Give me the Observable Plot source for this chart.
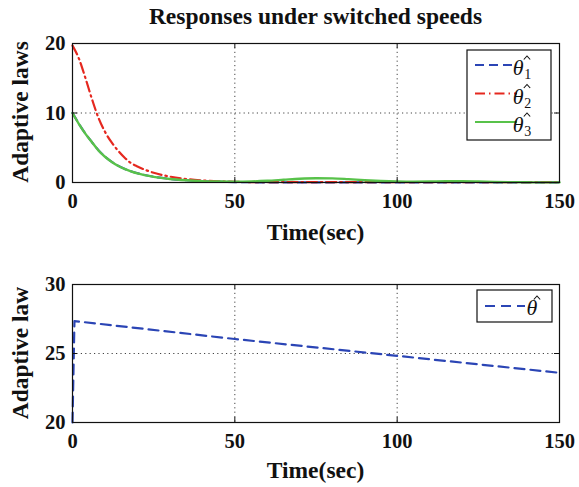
<!DOCTYPE html>
<html><head><meta charset="utf-8">
<script src="https://cdn.jsdelivr.net/npm/d3@7"></script>
<script src="https://cdn.jsdelivr.net/npm/@observablehq/plot@0.6"></script>
<style>
body{margin:0;background:#fff;}
#wrap{position:relative;width:579px;height:487px;font-family:"Liberation Serif","Times New Roman",serif;overflow:hidden;}
#title{position:absolute;left:72px;width:487px;top:2px;text-align:center;font-weight:bold;font-size:23.5px;line-height:28px;color:#111;}
.plot{position:absolute;left:0;}
</style></head><body>
<div id="wrap">
<div id="p1" class="plot" style="top:0px"></div>
<div id="p2" class="plot" style="top:250px"></div>
<div id="title">Responses under switched speeds</div>
</div>
<script>
// ---- data ----
const titleText = "Responses under switched speeds";
const xTicks = [0, 50, 100, 150];
const yTicksTop = [0, 10, 20];
const yTicksBottom = [20, 25, 30];
const timeTop = [0,2,4,6,8,10,12,14,16,18,20,25,30,35,40,45,50,55,60,65,70,75,80,85,90,95,100,105,110,115,120,125,130,135,140,145,150];
const theta1 = [10,8.4,7.0,5.8,4.6,3.7,3.0,2.4,1.95,1.6,1.3,0.8,0.5,0.32,0.2,0.12,0.05,0.03,0.03,0.03,0.03,0.03,0.03,0.03,0.03,0.03,0.03,0.03,0.03,0.03,0.03,0.03,0.03,0.03,0.03,0.03,0.03];
const theta2 = [19.7,17.8,15.0,12.0,9.3,7.3,5.8,4.6,3.6,2.8,2.3,1.4,0.85,0.5,0.3,0.18,0.1,0.06,0.05,0.05,0.05,0.05,0.05,0.05,0.05,0.05,0.05,0.05,0.05,0.05,0.05,0.05,0.05,0.05,0.05,0.05,0.05];
const theta3 = [10,8.4,7.0,5.8,4.6,3.7,3.0,2.4,1.95,1.6,1.3,0.8,0.5,0.32,0.2,0.15,0.12,0.15,0.25,0.4,0.55,0.62,0.6,0.48,0.33,0.22,0.15,0.12,0.14,0.18,0.18,0.14,0.08,0.05,0.03,0.02,0.02];
const timeBottom = [0, 0.6, 50, 100, 150];
const thetaHat = [20, 27.35, 26.05, 24.83, 23.6];
const seriesNames = ["1", "2", "3"];

const BLUE = "#2b45b5", RED = "#e5281f", GREEN = "#58c24a";
const FONT = "Liberation Serif, Times New Roman, serif";

const top3 = timeTop.map((t, i) => ({t, a: theta1[i], b: theta2[i], c: theta3[i]}));
const bot = timeBottom.map((t, i) => ({t, v: thetaHat[i]}));

function frameMarks(innerW, innerH, yTicks) {
  return [
    Plot.frame({stroke: "#111", strokeWidth: 1.2}),
    Plot.tickX(xTicks, {x: d => d, insetTop: innerH - 5, stroke: "#111"}),
    Plot.tickX(xTicks, {x: d => d, insetBottom: innerH - 5, stroke: "#111"}),
    Plot.tickY(yTicks, {y: d => d, insetLeft: innerW - 5, stroke: "#111"}),
    Plot.tickY(yTicks, {y: d => d, insetRight: innerW - 5, stroke: "#111"})
  ];
}

const common = {
  width: 579, marginLeft: 72, marginRight: 20,
  style: {fontFamily: FONT, fontSize: "20.5px", fontWeight: "bold", color: "#111", background: "transparent", overflow: "visible"}
};
const innerW = 579 - 72 - 20;

const p1 = Plot.plot({
  ...common, height: 250, marginTop: 43, marginBottom: 68,
  x: {domain: [0, 150], ticks: xTicks, tickSize: 0, tickPadding: 11, label: null},
  y: {domain: [0, 20], ticks: yTicksTop, tickSize: 0, tickPadding: 7, label: null},
  marks: [
    Plot.ruleX([50, 100], {x: d => d, stroke: "#444", strokeDasharray: "1.2,3.2"}),
    Plot.ruleY([10], {y: d => d, stroke: "#444", strokeDasharray: "1.2,3.2"}),
    Plot.line(top3, {x: "t", y: "a", stroke: BLUE, strokeWidth: 2.2, strokeDasharray: "9,5", curve: "basis"}),
    Plot.line(top3, {x: "t", y: "b", stroke: RED, strokeWidth: 2.2, strokeDasharray: "10,4,1.5,4", curve: "monotone-x"}),
    Plot.line(top3, {x: "t", y: "c", stroke: GREEN, strokeWidth: 2.4, curve: "monotone-x"}),
    ...frameMarks(innerW, 139, yTicksTop)
  ]
});
document.getElementById("p1").appendChild(p1);

const p2 = Plot.plot({
  ...common, height: 237, marginTop: 34, marginBottom: 65,
  x: {domain: [0, 150], ticks: xTicks, tickSize: 0, tickPadding: 11, label: null},
  y: {domain: [20, 30], ticks: yTicksBottom, tickSize: 0, tickPadding: 7, label: null},
  marks: [
    Plot.ruleX([50, 100], {x: d => d, stroke: "#444", strokeDasharray: "1.2,3.2"}),
    Plot.ruleY([25], {y: d => d, stroke: "#444", strokeDasharray: "1.2,3.2"}),
    Plot.line(bot, {x: "t", y: "v", stroke: BLUE, strokeWidth: 2.2, strokeDasharray: "10,6"}),
    ...frameMarks(innerW, 138, yTicksBottom)
  ]
});
document.getElementById("p2").appendChild(p2);

// axis titles
function addLabels(svg, xBase, yCenter, ylab) {
  const s = d3.select(svg);
  s.append("text").attr("x", 72 + innerW / 2).attr("y", xBase)
    .attr("text-anchor", "middle").attr("font-size", 23.5).attr("font-weight", "bold")
    .attr("font-family", FONT).attr("fill", "#111").text("Time(sec)");
  s.append("text").attr("transform", `translate(28,${yCenter}) rotate(-90)`)
    .attr("text-anchor", "middle").attr("font-size", 23.5).attr("font-weight", "bold")
    .attr("font-family", FONT).attr("fill", "#111").text(ylab);
}
addLabels(p1, 240, 112, "Adaptive laws");
addLabels(p2, 228, 103, "Adaptive law");

// theta-hat label: theta text (+ subscript) with the hat accent drawn as a small stroke
function thetaHatLabel(g, x, baseline, sub) {
  const t = g.append("text").attr("x", x).attr("y", baseline)
    .attr("font-family", FONT).attr("font-weight", "normal").attr("fill", "#111");
  t.append("tspan").attr("font-style", "italic").attr("font-size", 22).text("θ");
  if (sub) t.append("tspan").attr("font-size", 14).attr("dx", 0.5).attr("dy", 4).text(sub);
  g.append("path")
    .attr("d", `M${x + 1.8},${baseline - 15.5} L${x + 5},${baseline - 19} L${x + 8.2},${baseline - 15.5}`)
    .attr("fill", "none").attr("stroke", "#111").attr("stroke-width", 1.1);
}

// legend top
{
  const g = d3.select(p1).append("g");
  g.append("rect").attr("x", 467).attr("y", 50).attr("width", 84).attr("height", 90)
    .attr("fill", "white").attr("stroke", "#111").attr("stroke-width", 1.2);
  const styles = [
    {stroke: BLUE, dash: "9,5"}, {stroke: RED, dash: "10,4,1.5,4"}, {stroke: GREEN, dash: null}
  ];
  seriesNames.forEach((n, i) => {
    const y = 65 + i * 28.5;
    const l = g.append("line").attr("x1", 475).attr("x2", 517).attr("y1", y).attr("y2", y)
      .attr("stroke", styles[i].stroke).attr("stroke-width", 2.2);
    if (styles[i].dash) l.attr("stroke-dasharray", styles[i].dash);
    thetaHatLabel(g, 522, y + 10, n);
  });
}
// legend bottom
{
  const g = d3.select(p2).append("g");
  g.append("rect").attr("x", 477).attr("y", 40).attr("width", 75).attr("height", 32)
    .attr("fill", "white").attr("stroke", "#111").attr("stroke-width", 1.2);
  g.append("line").attr("x1", 485).attr("x2", 525).attr("y1", 56).attr("y2", 56)
    .attr("stroke", BLUE).attr("stroke-width", 2.2).attr("stroke-dasharray", "10,6");
  thetaHatLabel(g, 532, 65, null);
}
</script>
</body></html>
